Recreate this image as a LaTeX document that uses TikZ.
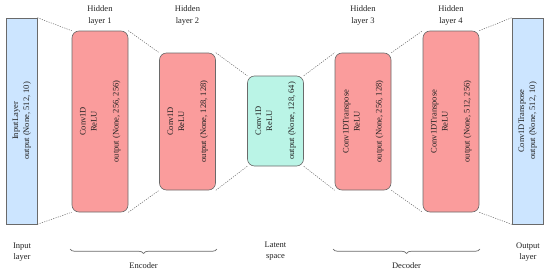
\documentclass[tikz,border=0pt]{standalone}
\usepackage{fontspec}
\setmainfont{Liberation Serif}
\usepackage{xcolor}
\usepackage{tikz}
\usetikzlibrary{positioning, decorations.pathreplacing}

\definecolor{ioblue}{HTML}{CCE5FF}
\definecolor{hidred}{HTML}{FA9C9C}
\definecolor{latcyan}{HTML}{BAF4E6}
\definecolor{edgegray}{HTML}{6A6A6A}
\definecolor{txtgray}{HTML}{222222}

\tikzset{
    iobox/.style={draw=edgegray, fill=ioblue, line width=0.6pt, minimum width=31pt, minimum height=206pt, inner sep=0pt, text=txtgray},
    hidbox/.style={draw=edgegray, fill=hidred, line width=0.6pt, rounded corners=7pt, minimum width=56pt, inner sep=0pt, text=txtgray},
    latbox/.style={hidbox, fill=latcyan},
    link/.style={edgegray, line width=0.5pt, dash pattern=on 1.2pt off 1.2pt},
    lbl/.style={align=center, text=txtgray, font=\fontsize{8.5}{11.5}\selectfont},
    groupbrace/.style={edgegray, line width=0.7pt, decorate, decoration={brace, mirror, amplitude=4.5pt}}
}

\newcommand{\vtext}[1]{\rotatebox{90}{\fontsize{8.5}{11}\selectfont\begin{tabular}{@{}c@{}}#1\end{tabular}}}

\begin{document}
\begin{tikzpicture}[x=1pt, y=-1pt]
    \useasboundingbox (0,0) rectangle (550,273);

    % layers
    \node[iobox] (inp) at (21.5, 121) {\vtext{InputLayer\\output (None, 512, 10)}};
    \node[hidbox, minimum height=181pt] (h1) at (100, 121.5) {\vtext{Conv1D\\ReLU\\ \\output (None, 256, 256)}};
    \node[hidbox, minimum height=137pt] (h2) at (187.5, 121.5) {\vtext{Conv1D\\ReLU\\ \\output (None, 128, 128)}};
    \node[latbox, minimum height=90pt] (lat) at (275.5, 121) {\vtext{Conv1D\\ReLU\\ \\output (None, 128, 64)}};
    \node[hidbox, minimum height=137pt] (h3) at (363, 121.5) {\vtext{Conv1DTranspose\\ReLU\\ \\output (None, 256, 128)}};
    \node[hidbox, minimum height=181pt] (h4) at (451, 121.5) {\vtext{Conv1DTranspose\\ReLU\\ \\output (None, 512, 256)}};
    \node[iobox] (out) at (527.5, 121) {\vtext{Conv1DTranspose\\output (None, 512, 10)}};

    % dotted links
    \foreach \a/\b in {inp/h1, h1/h2, h2/lat, lat/h3, h3/h4, h4/out} {
        \draw[link] (\a.north east) -- (\b.north west);
        \draw[link] (\a.south east) -- (\b.south west);
    }

    % top labels
    \node[lbl] (t1) at (100, 15.5) {Hidden\\layer 1};
    \node[lbl] (t2) at (187.5, 15.5) {Hidden\\layer 2};
    \node[lbl] (t3) at (363, 15.5) {Hidden\\layer 3};
    \node[lbl] (t4) at (451, 15.5) {Hidden\\layer 4};

    % bottom labels
    \node[lbl] (binp) at (22, 252) {Input\\layer};
    \node[lbl] (blat) at (275.5, 251) {Latent\\space};
    \node[lbl] (bout) at (528, 252) {Output\\layer};

    \coordinate (encL) at (70, 249);
    \coordinate (encR) at (217, 249);
    \coordinate (decL) at (333, 249);
    \coordinate (decR) at (480, 249);
    \draw[groupbrace] (encL) -- (encR);
    \draw[groupbrace] (decL) -- (decR);
    \node[lbl] (enc) at (143.5, 266) {Encoder};
    \node[lbl] (dec) at (406.5, 266) {Decoder};
\end{tikzpicture}
\end{document}
